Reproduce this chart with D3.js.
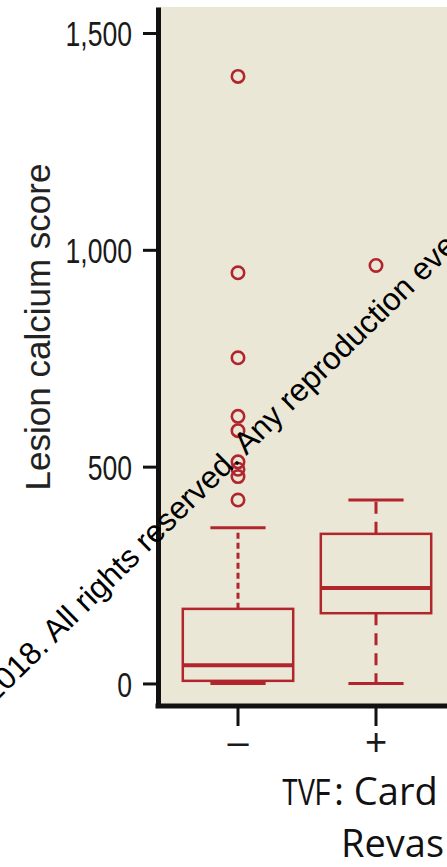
<!DOCTYPE html>
<html>
<head>
<meta charset="utf-8">
<script src="https://cdn.jsdelivr.net/npm/d3@7"></script>
<style>
  html, body { margin: 0; padding: 0; background: #ffffff; }
  svg { display: block; }
</style>
</head>
<body>
<svg id="chart" width="447" height="867"></svg>
<script>
// ---- data ----
const categories = ["\u2013", "+"];
const whiskerLow = [0, 0];
const q1 = [6, 162];
const medians = [42, 220];
const q3 = [172, 345];
const whiskerHigh = [359, 423];
const outliersMinus = [1400, 947, 751, 616, 583, 511, 494, 477, 423];
const outliersPlus = [964];
const yTicks = [0, 500, 1000, 1500];
const yLabel = "Lesion calcium score";
const xTitleLine1a = "TVF";
const xTitleLine1b = ": Card";
const xTitleLine2 = "Revas";
const watermark = "2018. All rights reserved. Any reproduction eve";

const outliers = [outliersMinus, outliersPlus];

// ---- layout ----
const W = 447, H = 867;
const panel = { left: 158, top: 7, bottom: 706 };
const red = "#b0262c";
const sans = "'Liberation Sans', Arial, sans-serif";
const squeeze = 0.76;

const svg = d3.select("#chart");

const y = d3.scaleLinear().domain([-52, 1560]).range([panel.bottom, panel.top]);
const x = d3.scaleBand().domain(categories).range([169, 445]).padding(0);
const boxW = x.bandwidth() * 0.8;
const capW = boxW / 2;
const cx = d => x(d) + x.bandwidth() / 2;

// panel background
svg.append("rect")
  .attr("x", panel.left).attr("y", panel.top)
  .attr("width", W - panel.left).attr("height", panel.bottom - panel.top)
  .attr("fill", "#ebe7d6");

// boxes
const g = svg.append("g");
categories.forEach((c, i) => {
  const xc = cx(c);
  const dash = i === 0 ? "6,4" : "12,8";
  g.append("line").attr("x1", xc).attr("x2", xc)
    .attr("y1", y(q3[i])).attr("y2", y(whiskerHigh[i]))
    .attr("stroke", red).attr("stroke-width", 3).attr("stroke-dasharray", dash);
  g.append("line").attr("x1", xc).attr("x2", xc)
    .attr("y1", y(q1[i])).attr("y2", y(whiskerLow[i]))
    .attr("stroke", red).attr("stroke-width", 3).attr("stroke-dasharray", dash);
  [whiskerLow[i], whiskerHigh[i]].forEach(v => {
    g.append("line").attr("x1", xc - capW / 2).attr("x2", xc + capW / 2)
      .attr("y1", y(v)).attr("y2", y(v))
      .attr("stroke", red).attr("stroke-width", 3);
  });
  g.append("rect")
    .attr("x", xc - boxW / 2).attr("y", y(q3[i]))
    .attr("width", boxW).attr("height", y(q1[i]) - y(q3[i]))
    .attr("fill", "none").attr("stroke", red).attr("stroke-width", 2.5);
  g.append("line").attr("x1", xc - boxW / 2).attr("x2", xc + boxW / 2)
    .attr("y1", y(medians[i])).attr("y2", y(medians[i]))
    .attr("stroke", red).attr("stroke-width", 4);
  g.selectAll(null).data(outliers[i]).enter().append("circle")
    .attr("cx", xc).attr("cy", d => y(d)).attr("r", 6.2)
    .attr("fill", "none").attr("stroke", red).attr("stroke-width", 2.6);
});

// y axis
const yAxis = svg.append("g")
  .attr("transform", `translate(${panel.left},0)`)
  .call(d3.axisLeft(y).tickValues(yTicks).tickFormat(d3.format(",")).tickSize(15).tickSizeOuter(0).tickPadding(10));
yAxis.select(".domain").attr("stroke", "#111").attr("stroke-width", 5);
yAxis.selectAll(".tick line").attr("stroke", "#111").attr("stroke-width", 3);
yAxis.selectAll(".tick text")
  .attr("font-family", sans)
  .attr("font-size", 35).attr("fill", "#1a1a1a").attr("dy", "0.36em")
  .attr("x", -26 / squeeze)
  .attr("transform", `scale(${squeeze},1)`);

// x axis
svg.append("line")
  .attr("x1", panel.left - 2.5).attr("x2", W)
  .attr("y1", panel.bottom).attr("y2", panel.bottom)
  .attr("stroke", "#111").attr("stroke-width", 5);
const xAxis = svg.append("g")
  .attr("transform", `translate(0,${panel.bottom + 2})`)
  .call(d3.axisBottom(x).tickSize(18).tickSizeOuter(0).tickPadding(2));
xAxis.select(".domain").remove();
xAxis.selectAll(".tick line").attr("stroke", "#111").attr("stroke-width", 3);
xAxis.selectAll(".tick text")
  .attr("font-family", sans)
  .attr("font-size", 38).attr("fill", "#1a1a1a");

// y label
svg.append("text")
  .attr("transform", "translate(50,327) rotate(-90)")
  .attr("text-anchor", "middle")
  .attr("font-family", sans)
  .attr("font-size", 35).attr("fill", "#222")
  .text(yLabel);

// x title (cropped at the page edge)
svg.append("text").attr("transform", "translate(282,805) scale(0.7,1)")
  .attr("font-size", 37).attr("fill", "#111")
  .attr("font-family", sans)
  .text(xTitleLine1a);
svg.append("text").attr("x", 334).attr("y", 805).attr("font-size", 38).attr("fill", "#111")
  .attr("font-family", "'Open Sans', sans-serif").text(xTitleLine1b);
svg.append("text").attr("x", 341).attr("y", 857).attr("font-size", 38)
  .attr("font-family", "'Open Sans', sans-serif").attr("fill", "#111").text(xTitleLine2);

// watermark line
svg.append("text")
  .attr("transform", "translate(-6,704) rotate(-44.5)")
  .attr("font-family", sans)
  .attr("font-size", 31.5).attr("fill", "#000")
  .text(watermark);
</script>
</body>
</html>
